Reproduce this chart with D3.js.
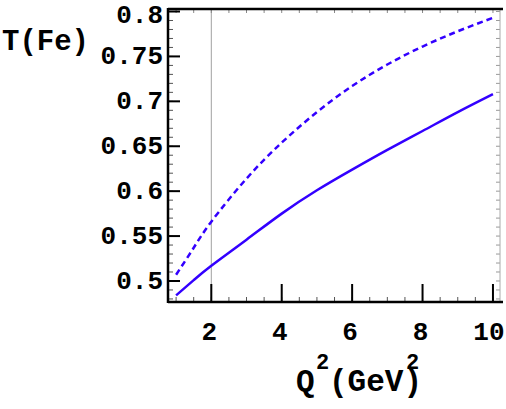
<!DOCTYPE html>
<html>
<head>
<meta charset="utf-8">
<script src="https://cdn.jsdelivr.net/npm/d3@7"></script>
<style>
body { margin: 0; background: #fff; }
text { font-family: "Liberation Mono", "DejaVu Sans Mono", monospace; font-weight: bold; fill: #000; }
</style>
</head>
<body>
<script>
var w = 506;
var h = 409;

// data
var q2 = [1, 1.5, 2, 3, 4, 5, 6, 7, 8, 9, 10];
var tSolid = [0.484, 0.501, 0.517, 0.546, 0.575, 0.601, 0.624, 0.646, 0.667, 0.688, 0.708];
var tDashed = [0.507, 0.537, 0.566, 0.614, 0.654, 0.688, 0.717, 0.741, 0.761, 0.778, 0.793];
var xTicks = [2, 4, 6, 8, 10];
var yTicks = [0.5, 0.55, 0.6, 0.65, 0.7, 0.75, 0.8];
var markQ2 = 2;

var svg = d3.select("body")
    .append("svg")
    .attr("width", w)
    .attr("height", h);

var x = d3.scaleLinear().domain([0.77, 10.2]).range([168, 500]);
var y = d3.scaleLinear().domain([0.4766, 0.8028]).range([302, 9]);

var x0 = x.range()[0], x1 = x.range()[1];
var y0 = y.range()[0], y1 = y.range()[1];

// vertical marker at Q2 = 2
svg.append("line")
    .attr("x1", x(markQ2)).attr("x2", x(markQ2))
    .attr("y1", y1).attr("y2", y0)
    .attr("stroke", "#a0a0a0").attr("stroke-width", 1);

// minor ticks
var xMinor = d3.range(1, 10.01, 0.5);
var yMinor = d3.range(0.48, 0.8001, 0.01);

var ticks = svg.append("g").attr("class", "ticks");
// bottom minor
ticks.selectAll(".bmin").data(xMinor).enter().append("line")
    .attr("x1", d => x(d)).attr("x2", d => x(d))
    .attr("y1", y0).attr("y2", y0 - 5)
    .attr("stroke", "#555").attr("stroke-width", 1);
// top minor
ticks.selectAll(".tmin").data(xMinor).enter().append("line")
    .attr("x1", d => x(d)).attr("x2", d => x(d))
    .attr("y1", y1).attr("y2", y1 + 4)
    .attr("stroke", "#888").attr("stroke-width", 1);
// left minor
ticks.selectAll(".lmin").data(yMinor).enter().append("line")
    .attr("x1", x0).attr("x2", x0 + 5)
    .attr("y1", d => y(d)).attr("y2", d => y(d))
    .attr("stroke", "#555").attr("stroke-width", 1);
// right minor
ticks.selectAll(".rmin").data(yMinor).enter().append("line")
    .attr("x1", x1).attr("x2", x1 - 4)
    .attr("y1", d => y(d)).attr("y2", d => y(d))
    .attr("stroke", "#999").attr("stroke-width", 1);

// bottom major
ticks.selectAll(".bmaj").data(xTicks).enter().append("line")
    .attr("x1", d => x(d)).attr("x2", d => x(d))
    .attr("y1", y0).attr("y2", y0 - 18)
    .attr("stroke", "#000").attr("stroke-width", 2);
// left major
ticks.selectAll(".lmaj").data(yTicks).enter().append("line")
    .attr("x1", x0).attr("x2", x0 + 12)
    .attr("y1", d => y(d)).attr("y2", d => y(d))
    .attr("stroke", "#000").attr("stroke-width", 2);

// frame
svg.append("line").attr("x1", x1).attr("x2", x1).attr("y1", y1).attr("y2", y0)
    .attr("stroke", "#aaa").attr("stroke-width", 1);
svg.append("line").attr("x1", x0).attr("x2", x1 + 3).attr("y1", y1).attr("y2", y1)
    .attr("stroke", "#000").attr("stroke-width", 2.5);
svg.append("line").attr("x1", x0).attr("x2", x1 + 3).attr("y1", y0).attr("y2", y0)
    .attr("stroke", "#000").attr("stroke-width", 2.5);
svg.append("line").attr("x1", x0).attr("x2", x0).attr("y1", y1 - 1).attr("y2", y0 + 1)
    .attr("stroke", "#000").attr("stroke-width", 2.5);

// curves
var line = d3.line()
    .x((d, i) => x(q2[i]))
    .y(d => y(d))
    .curve(d3.curveNatural);

svg.append("path")
    .attr("d", line(tSolid))
    .attr("fill", "none")
    .attr("stroke", "#3300ff")
    .attr("stroke-width", 2.5);

svg.append("path")
    .attr("d", line(tDashed))
    .attr("fill", "none")
    .attr("stroke", "#3300ff")
    .attr("stroke-width", 2.5)
    .attr("stroke-dasharray", "6,4");

// tick labels (top one pushed down to stay inside the window)
svg.selectAll(".ylab").data(yTicks).enter().append("text")
    .attr("x", 163)
    .attr("y", d => Math.max(y(d) + 8, 23))
    .attr("text-anchor", "end")
    .attr("font-size", 26)
    .text(d => d3.format("")(d));

svg.selectAll(".xlab").data(xTicks).enter().append("text")
    .attr("x", d => x(d) - (d == 10 ? 4 : 2))
    .attr("y", 340)
    .attr("text-anchor", "middle")
    .attr("font-size", 26)
    .text(d => d);

// axis titles
svg.append("text")
    .attr("x", 2).attr("y", 50)
    .attr("font-size", 29)
    .text("T(Fe)");

// the second superscript sits over the V, as in the reference
var xt = svg.append("g");
xt.append("text").attr("x", 296).attr("y", 391).attr("font-size", 31).text("Q");
xt.append("text").attr("x", 316).attr("y", 369).attr("font-size", 22).text("2");
xt.append("text").attr("x", 329).attr("y", 391).attr("font-size", 31).text("(GeV)");
xt.append("text").attr("x", 406).attr("y", 369).attr("font-size", 22).text("2");
</script>
</body>
</html>
